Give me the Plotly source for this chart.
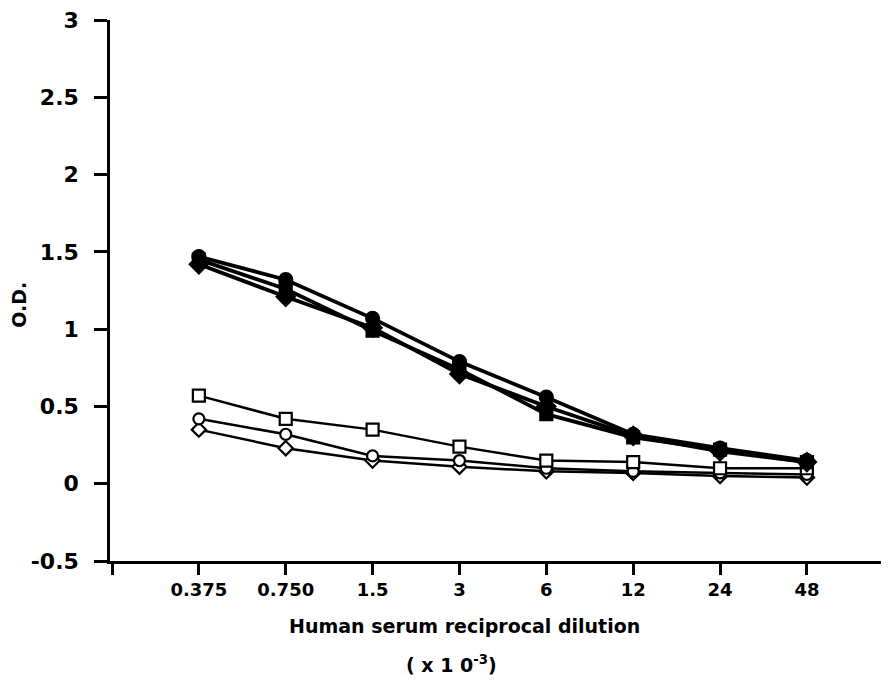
import plotly.graph_objects as go

dilutions = ["0.375", "0.750", "1.5", "3", "6", "12", "24", "48"]
positions = [1, 2, 3, 4, 5, 6, 7, 8]

filled_circle = [1.47, 1.32, 1.07, 0.79, 0.56, 0.32, 0.23, 0.15]
filled_square = [1.45, 1.26, 0.99, 0.74, 0.45, 0.30, 0.22, 0.14]
filled_diamond = [1.42, 1.21, 1.01, 0.71, 0.50, 0.31, 0.21, 0.14]
open_square = [0.57, 0.42, 0.35, 0.24, 0.15, 0.14, 0.10, 0.10]
open_circle = [0.42, 0.32, 0.18, 0.15, 0.10, 0.08, 0.07, 0.06]
open_diamond = [0.35, 0.23, 0.15, 0.11, 0.08, 0.07, 0.05, 0.04]

y_ticks = [-0.5, 0, 0.5, 1, 1.5, 2, 2.5, 3]
y_tick_text = ["-0.5", "0", "0.5", "1", "1.5", "2", "2.5", "3"]

FONT = "DejaVu Sans"

fig = go.Figure()

series = [
    (open_diamond, "diamond", "white", 11, 2.5),
    (open_circle, "circle", "white", 11, 2.5),
    (open_square, "square", "white", 12, 2.5),
    (filled_diamond, "diamond", "black", 14, 3.8),
    (filled_square, "square", "black", 12, 3.8),
    (filled_circle, "circle", "black", 13, 3.8),
]
for vals, sym, fill, size, lw in series:
    fig.add_trace(go.Scatter(
        x=positions, y=vals, mode="lines+markers",
        line=dict(color="black", width=lw),
        marker=dict(symbol=sym, size=size, color=fill,
                    line=dict(color="black", width=2.2)),
        showlegend=False,
    ))

# page body has an 8px default margin; size the figure to fit the 889x683 window
fig.update_layout(
    width=881, height=675,
    margin=dict(l=102, r=0, t=9, b=122),
    plot_bgcolor="white", paper_bgcolor="white",
    font=dict(family=FONT, color="black"),
)

fig.update_xaxes(
    range=[-0.023, 8.945],
    tickmode="array", tickvals=positions, ticktext=dilutions,
    ticks="outside", ticklen=11, tickwidth=2.5, tickcolor="black",
    minor=dict(ticks="outside", tick0=0, dtick=100, ticklen=11,
               tickwidth=2.5, tickcolor="black", showgrid=False),
    showline=True, linewidth=2.5, linecolor="black",
    showgrid=False, zeroline=False,
    tickfont=dict(family=FONT, size=18, color="black", weight="bold"),
)
fig.update_yaxes(
    range=[-0.5, 3.0005],
    tickmode="array", tickvals=y_ticks, ticktext=y_tick_text,
    ticks="outside", ticklen=13, tickwidth=2.5, tickcolor="black",
    showline=True, linewidth=2.5, linecolor="black",
    showgrid=False, zeroline=False,
    ticklabelstandoff=11, ticklabeloverflow="allow",
    tickfont=dict(family=FONT, size=22, color="black", weight="bold"),
)

fig.add_annotation(
    text="Human serum reciprocal dilution", xref="paper", yref="paper",
    x=0.455, y=-0.121, xanchor="center", yanchor="middle", showarrow=False,
    font=dict(family=FONT, size=19, color="black", weight="bold"),
)
fig.add_annotation(
    text="( x 1 0<sup>-3</sup>)", xref="paper", yref="paper",
    x=0.439, y=-0.19, xanchor="center", yanchor="middle", showarrow=False,
    font=dict(family=FONT, size=19, color="black", weight="bold"),
)
fig.add_annotation(
    text="O.D.", xref="paper", yref="paper",
    x=-0.118, y=0.474, xanchor="center", yanchor="middle", showarrow=False,
    textangle=-90,
    font=dict(family=FONT, size=19, color="black", weight="bold"),
)

fig.write_html("out.html")
